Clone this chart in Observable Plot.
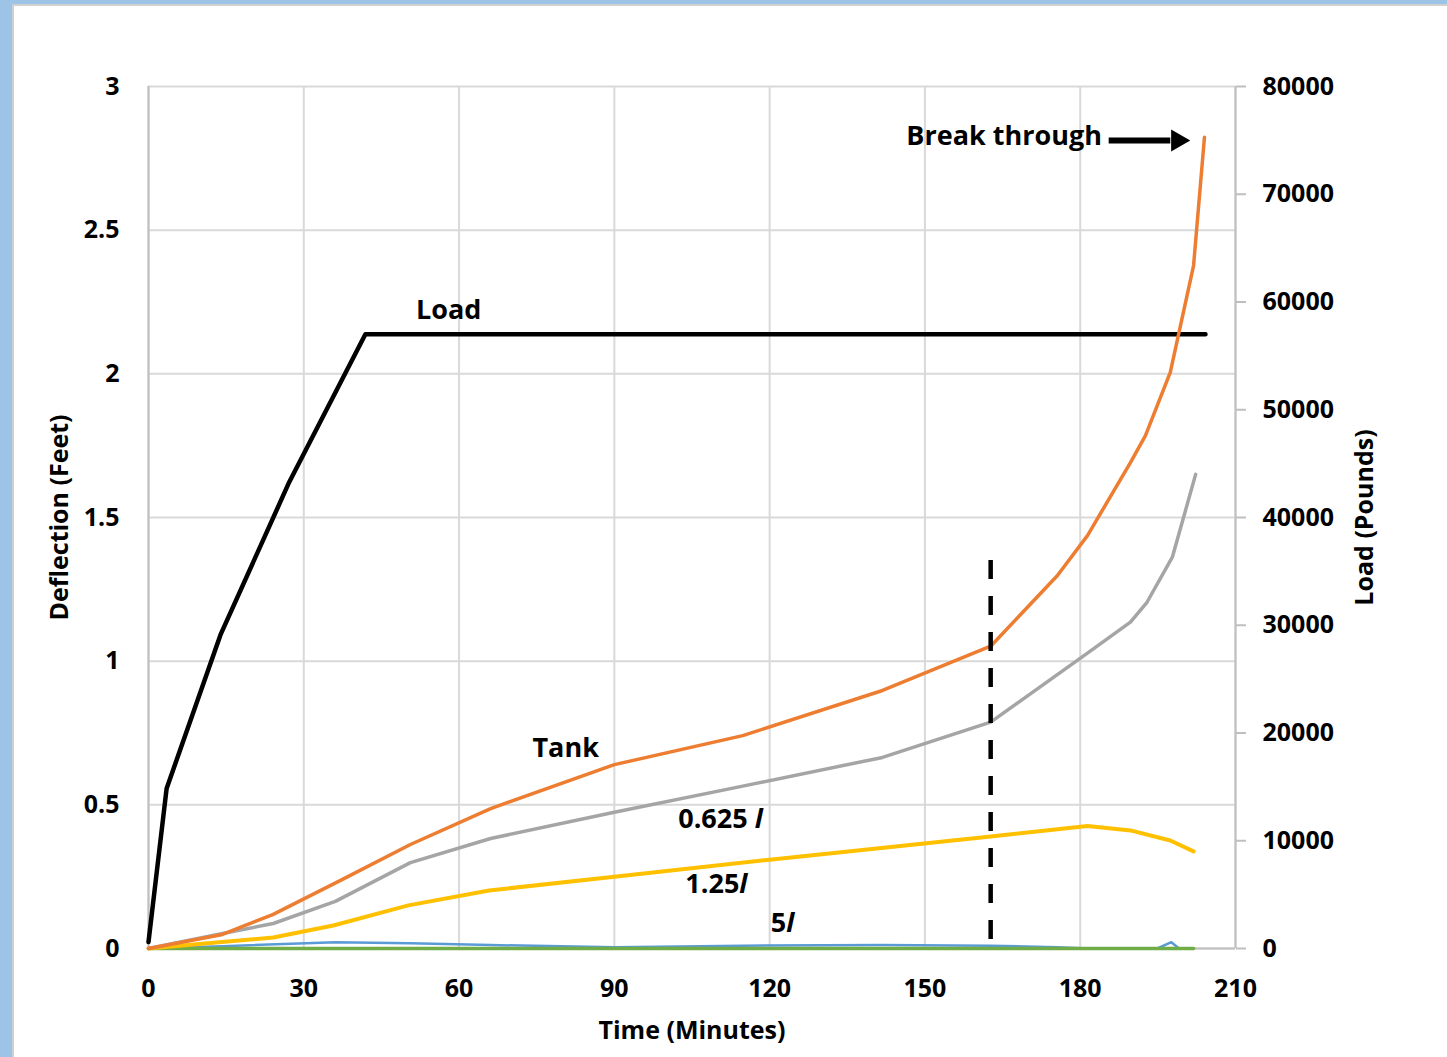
<!DOCTYPE html>
<html><head><meta charset="utf-8">
<script src="https://cdn.jsdelivr.net/npm/d3@7"></script>
<script src="https://cdn.jsdelivr.net/npm/@observablehq/plot@0.6"></script>
<style>
html,body{margin:0;padding:0;}
body{background:#9dc3e6;width:1447px;height:1057px;position:relative;overflow:hidden;font-family:"Open Sans",sans-serif;}
#panel{position:absolute;left:12px;top:4px;right:0;bottom:0;background:#fff;box-shadow:inset 2px 2px 0 #d0d0d0;}
#chart{position:absolute;left:12px;top:4px;}
#chart svg{background:transparent !important;}
</style></head><body>
<div id="panel"></div><div id="chart"></div>
<script>
// Axis ticks
const xTicks = [0, 30, 60, 90, 120, 150, 180, 210];
const yTicks = [0, 0.5, 1, 1.5, 2, 2.5, 3];
const loadTicks = [0, 10000, 20000, 30000, 40000, 50000, 60000, 70000, 80000];

// Load (Pounds, right axis)
const loadTime = [0, 3.5, 13.9, 27.2, 41.9, 204.2];
const loadPounds = [600, 14850, 29100, 43300, 57000, 57000];

// Tank deflection (feet)
const tankTime = [0, 14.3, 24.0, 37.1, 50.6, 66.1, 90.0, 114.8, 141.8, 162.7, 175.6, 181.4, 189.7, 192.6, 197.4, 201.9, 204.0];
const tankDefl = [0, 0.049, 0.118, 0.237, 0.362, 0.487, 0.640, 0.741, 0.898, 1.052, 1.298, 1.437, 1.691, 1.785, 2.005, 2.377, 2.823];

// 0.625 l
const g0625Time = [0, 14.3, 24.1, 36.1, 50.6, 66.1, 90.0, 114.8, 141.8, 162.7, 181.4, 189.7, 192.9, 197.8, 202.3];
const g0625Defl = [0, 0.052, 0.087, 0.164, 0.299, 0.383, 0.474, 0.565, 0.665, 0.788, 1.028, 1.136, 1.205, 1.362, 1.650];

// 1.25 l
const g125Time = [0, 24.1, 35.7, 50.2, 65.8, 90.0, 120.0, 162.7, 175.6, 181.4, 189.7, 197.4, 201.9];
const g125Defl = [0, 0.038, 0.080, 0.150, 0.202, 0.250, 0.309, 0.390, 0.415, 0.426, 0.411, 0.376, 0.338];

// 5 l
const g5Time = [0, 14.3, 36.1, 50.6, 66.1, 90.0, 114.8, 141.8, 162.7, 175.6, 181.4, 194.9, 197.6, 199.1, 201.9];
const g5Defl = [0, 0.008, 0.022, 0.018, 0.012, 0.004, 0.010, 0.012, 0.010, 0.004, 0, 0, 0.022, 0, 0];

// Far field (green)
const gFarTime = [0, 201.9];
const gFarDefl = [0, 0];

// Dashed marker
const markerTime = [162.7];
const markerTop = [1.35];

// Annotations
const labelText = ["Load", "Tank", "0.625 l", "1.25l", "5l", "Break through"];
const labelTime = [58.0, 80.6, 110.5, 109.7, 122.5, 165.3];
const labelDefl = [2.22, 0.696, 0.449, 0.223, 0.087, 2.826];
const arrowTime1 = [185.5], arrowTime2 = [197.4], arrowDefl = [2.812];
const arrowHeadTime = [198.8];

const toFt = lb => lb * 3 / 80000;

const plot = Plot.plot({
  width: 1435, height: 1053,
  marginLeft: 136, marginRight: 212, marginTop: 82, marginBottom: 109,
  style: {fontFamily: "'Open Sans', sans-serif", fontWeight: "bold", background: "transparent", color: "#000"},
  x: {domain: [0, 210]},
  y: {domain: [0, 3]},
  marks: [
    Plot.gridX(xTicks, {stroke: "#d9d9d9", strokeOpacity: 1, strokeWidth: 2}),
    Plot.gridY(yTicks, {stroke: "#d9d9d9", strokeOpacity: 1, strokeWidth: 2}),
    Plot.ruleX([0, 210], {stroke: "#bfbfbf", strokeWidth: 2}),
    Plot.ruleY([0], {stroke: "#bfbfbf", strokeWidth: 2}),
    Plot.axisX(xTicks, {tickSize: 0, tickPadding: 31, fontSize: 25, fill: "#000",
      label: "Time (Minutes)", labelAnchor: "center", labelOffset: 90, labelArrow: "none"}),
    Plot.axisY(yTicks, {anchor: "left", tickSize: 0, tickPadding: 29, fontSize: 25, fill: "#000",
      tickFormat: d => String(d), label: "Deflection (Feet)", labelAnchor: "center", labelOffset: 98, labelArrow: "none"}),
    Plot.axisY(loadTicks.map(toFt), {anchor: "right", tickSize: 10, tickPadding: 17, stroke: "#bfbfbf", strokeWidth: 2,
      fill: "#000", fontSize: 25, tickFormat: d => String(Math.round(d * 80000 / 3)),
      label: "Load (Pounds)", labelAnchor: "center", labelOffset: 137, labelArrow: "none"}),
    Plot.line(loadTime, {x: loadTime, y: loadPounds.map(toFt), stroke: "#000", strokeWidth: 4.5}),
    Plot.line(g5Time, {x: g5Time, y: g5Defl, stroke: "#5b9bd5", strokeWidth: 2.5}),
    Plot.line(gFarTime, {x: gFarTime, y: gFarDefl, stroke: "#70ad47", strokeWidth: 3.5}),
    Plot.line(g125Time, {x: g125Time, y: g125Defl, stroke: "#ffc000", strokeWidth: 4}),
    Plot.line(g0625Time, {x: g0625Time, y: g0625Defl, stroke: "#a5a5a5", strokeWidth: 3.5}),
    Plot.line(tankTime, {x: tankTime, y: tankDefl, stroke: "#ed7d31", strokeWidth: 3.5}),
    Plot.ruleX(markerTime, {x: markerTime, y1: markerTop, y2: [0], stroke: "#000", strokeWidth: 4.5, strokeDasharray: "19,17", strokeLinecap: "butt"}),
    Plot.text(labelText, {x: labelTime, y: labelDefl, text: labelText, fontSize: 27, fill: "#000", fontWeight: "bold"}),
    Plot.link(arrowDefl, {x1: arrowTime1, x2: arrowTime2, y1: arrowDefl, y2: arrowDefl, stroke: "#000", strokeWidth: 6, strokeLinecap: "butt"}),
    Plot.dot(arrowDefl, {x: arrowHeadTime, y: arrowDefl, symbol: "triangle", rotate: 90, r: 8.2, fill: "#000", stroke: "none"})
  ]
});

d3.select(plot).selectAll("text").each(function () {
  const t = this.textContent;
  const m = /^([\d.]+ ?)l$/.exec(t);
  if (m) {
    this.textContent = "";
    d3.select(this).append("tspan").text(m[1]);
    d3.select(this).append("tspan").attr("font-style", "italic").text("l");
  }
});

document.getElementById("chart").appendChild(plot);
</script>
</body></html>
